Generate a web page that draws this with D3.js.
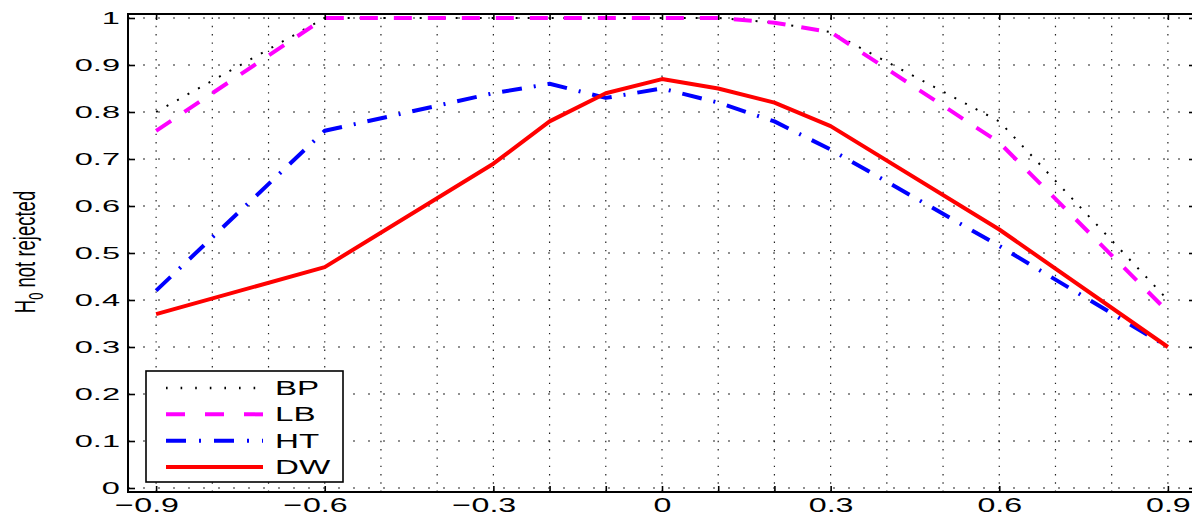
<!DOCTYPE html>
<html><head><meta charset="utf-8">
<script src="https://cdn.jsdelivr.net/npm/d3@7"></script>
<style>html,body{margin:0;padding:0;background:#fff;overflow:hidden} svg{display:block}</style>
</head><body><svg id="c" width="1192" height="517"></svg>
<script>
// ---- data ----
const rho = [-0.9, -0.6, -0.3, -0.2, -0.1, 0, 0.1, 0.2, 0.3, 0.6, 0.9];
const bp  = [0.80, 1.00, 1.00, 1.00, 1.00, 1.00, 1.00, 0.99, 0.97, 0.78, 0.40];
const lb  = [0.76, 1.00, 1.00, 1.00, 1.00, 1.00, 1.00, 0.99, 0.97, 0.735, 0.375];
const ht  = [0.42, 0.76, 0.84, 0.86, 0.83, 0.85, 0.82, 0.78, 0.72, 0.515, 0.30];
const dw  = [0.37, 0.47, 0.69, 0.78, 0.84, 0.87, 0.85, 0.82, 0.77, 0.55, 0.30];
const seriesNames = ["BP", "LB", "HT", "DW"];
const xTickValues = rho;
const xLabelValues = [-0.9, -0.6, -0.3, 0, 0.3, 0.6, 0.9];
const xLabels = ["−0.9", "−0.6", "−0.3", "0", "0.3", "0.6", "0.9"];
const xGridValues = [-0.9, -0.8, -0.7, -0.6, -0.5, -0.4, -0.3, -0.2, -0.1, 0, 0.1, 0.2, 0.3, 0.4, 0.5, 0.6, 0.7, 0.8, 0.9];
const yTickValues = [0, 0.1, 0.2, 0.3, 0.4, 0.5, 0.6, 0.7, 0.8, 0.9, 1];
const yTickLabels = ["0", "0.1", "0.2", "0.3", "0.4", "0.5", "0.6", "0.7", "0.8", "0.9", "1"];
const yTitleMain = "H";
const yTitleSub = "0";
const yTitleRest = " not rejected";

// ---- styles ----
const seriesData = [bp, lb, ht, dw];
const colors = ["#000000", "#ff00ff", "#0000ff", "#ff0000"];
const widths = [2, 4, 4, 4];
const dashes = ["2,10", "18,16", "20,12,2,12", null];
const legendDashes = ["1.6,13", "19,20", "20,13,2,13", null];

const svg = d3.select("#c");
const x = d3.scaleLinear().domain([-0.95, 0.95]).range([128, 1196]);
const y = d3.scaleLinear().domain([-0.0085, 1.0085]).range([492, 14]);
const X0 = 128, X1 = 1196, Y0 = 14, Y1 = 492;
const FONT = "'Liberation Sans', Arial, Helvetica, sans-serif";

// grid
const grid = svg.append("g");
grid.selectAll("line.v").data(xGridValues).enter().append("line")
  .attr("x1", d => x(d)).attr("x2", d => x(d))
  .attr("y1", Y1).attr("y2", Y0)
  .attr("stroke", "#222").attr("stroke-width", 1.2)
  .attr("stroke-dasharray", "1.4,6.9");
grid.selectAll("line.h").data(yTickValues).enter().append("line")
  .attr("x1", X0).attr("x2", X1)
  .attr("y1", d => y(d)).attr("y2", d => y(d))
  .attr("stroke", "#222").attr("stroke-width", 1.2)
  .attr("stroke-dasharray", "2,13");

// lines
const line = d3.line().x((d, i) => x(rho[i])).y(d => y(d));
seriesData.forEach((s, k) => {
  const p = svg.append("path").datum(s)
    .attr("d", line)
    .attr("fill", "none")
    .attr("stroke", colors[k])
    .attr("stroke-width", widths[k])
    .attr("stroke-linejoin", "round");
  if (dashes[k]) p.attr("stroke-dasharray", dashes[k]);
});

// axes
function styleAxis(g) {
  g.select(".domain").remove();
  g.selectAll(".tick line").attr("stroke", "#000").attr("stroke-width", 1.6);
}
svg.append("g").attr("transform", `translate(0,${Y1})`)
  .call(d3.axisBottom(x).tickValues(xTickValues).tickSizeInner(-6).tickSizeOuter(0).tickFormat(""))
  .call(styleAxis);
svg.append("g").attr("transform", `translate(0,${Y0})`)
  .call(d3.axisTop(x).tickValues(xTickValues).tickSizeInner(-6).tickSizeOuter(0).tickFormat(""))
  .call(styleAxis);
svg.append("g").attr("transform", `translate(${X1},0)`)
  .call(d3.axisRight(y).tickValues(yTickValues).tickSizeInner(-7).tickSizeOuter(0).tickFormat(""))
  .call(styleAxis);

// y axis with labels
const sxY = 2.0;
const yAx = svg.append("g").attr("transform", `translate(${X0},0)`)
  .call(d3.axisLeft(y).tickValues(yTickValues).tickSizeInner(-7).tickSizeOuter(0)
    .tickPadding(8).tickFormat((d, i) => yTickLabels[i]))
  .call(styleAxis);
yAx.selectAll("text")
  .attr("font-family", FONT).attr("font-size", 16.3).attr("fill", "#000")
  .attr("x", -8 / sxY).attr("transform", `scale(${sxY},1)`);

// x labels
const sxX = 1.65, syX = 1.06, fsX = 19.5;
const xAx = svg.append("g").attr("transform", `translate(0,${Y1})`)
  .call(d3.axisBottom(x).tickValues(xLabelValues).tickSize(0)
    .tickFormat((d, i) => xLabels[i]))
  .call(g => g.select(".domain").remove());
xAx.selectAll(".tick").each(function(d, i) {
  const t = d3.select(this).select("text")
    .attr("font-family", FONT).attr("font-size", fsX).attr("fill", "#000")
    .attr("y", 0).attr("dy", null)
    .attr("transform", `translate(0,20) scale(${sxX},${syX})`);
  const lab = xLabels[i];
  if (lab.startsWith("−")) {
    t.text(lab.slice(1));
    const w = t.node().getComputedTextLength();
    d3.select(this).append("text")
      .attr("font-family", FONT).attr("font-size", fsX).attr("fill", "#000")
      .attr("text-anchor", "end")
      .attr("x", -w / 2 - 0.5).attr("y", 0)
      .attr("transform", `translate(0,20) scale(${sxX},${syX})`)
      .text("−");
  }
});

// box
svg.append("rect").attr("x", X0).attr("y", Y0).attr("width", X1 - X0).attr("height", Y1 - Y0)
  .attr("fill", "none").attr("stroke", "#000").attr("stroke-width", 2);

// y title
const yt = svg.append("text")
  .attr("transform", "translate(35,252) rotate(-90) scale(1,1.6)")
  .attr("text-anchor", "middle")
  .attr("font-family", FONT).attr("font-size", 18.5).attr("fill", "#000");
yt.append("tspan").text(yTitleMain);
yt.append("tspan").attr("font-size", 13).attr("dy", 5).text(yTitleSub);
yt.append("tspan").attr("dy", -5).text(yTitleRest);

// legend
const lg = svg.append("g");
lg.append("rect").attr("x", 146).attr("y", 371).attr("width", 197).attr("height", 111)
  .attr("fill", "#fff").attr("stroke", "#000").attr("stroke-width", 1.6);
const ly = d3.scalePoint().domain(seriesNames).range([388, 467]);
seriesNames.forEach((nm, k) => {
  const l = lg.append("line").attr("x1", 166).attr("x2", 263)
    .attr("y1", ly(nm)).attr("y2", ly(nm))
    .attr("stroke", colors[k]).attr("stroke-width", k === 0 ? 2.5 : 4);
  if (legendDashes[k]) l.attr("stroke-dasharray", legendDashes[k]);
  lg.append("text")
    .attr("transform", `translate(275,${ly(nm) + 7}) scale(1.7,1.05)`)
    .attr("font-family", FONT).attr("font-size", 19.5).attr("fill", "#000")
    .text(nm);
});
</script></body></html>
